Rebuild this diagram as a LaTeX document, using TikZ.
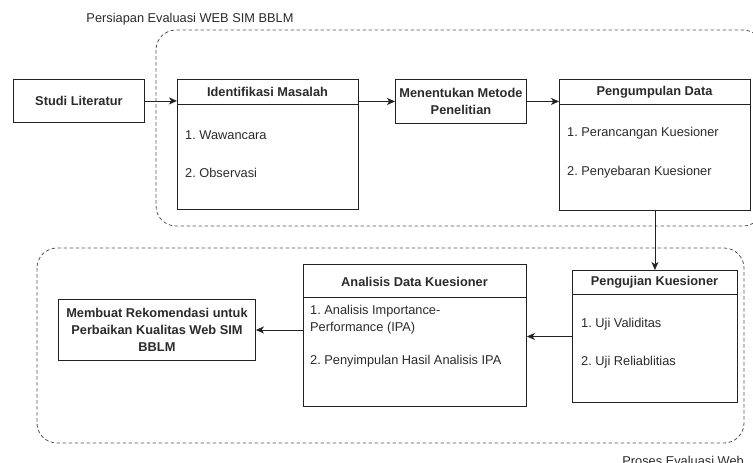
\documentclass[tikz,border=0pt]{standalone}
\usepackage{fontspec}
\setmainfont{Liberation Sans}
\frenchspacing
\usetikzlibrary{arrows.meta}
\definecolor{txt}{HTML}{2B2B2B}
\definecolor{ln}{HTML}{222222}
\definecolor{dsh}{HTML}{555555}
\tikzset{
  every node/.style={font=\fontsize{12.8}{17}\selectfont, text=txt, inner sep=0pt},
  boxnode/.style={draw=ln, line width=0.9pt, fill=white, rectangle, anchor=north west},
  headtext/.style={font=\fontsize{12.8}{17}\selectfont\bfseries},
  itemtext/.style={anchor=west},
  groupbox/.style={draw=dsh, line width=0.8pt, dash pattern=on 3.5pt off 2.5pt, rounded corners=20pt},
  conn/.style={draw=ln, line width=0.9pt, -{Stealth[length=8pt,width=7pt,inset=2.2pt]}},
  lbl/.style={font=\fontsize{12.8}{15}\selectfont}
}
\begin{document}
\begin{tikzpicture}[x=1pt,y=-1pt]
\useasboundingbox (0,0) rectangle (753,463);
% group frames
\path[groupbox] (156,30) rectangle (763,226);
\path[groupbox] (37,248) rectangle (744,443);
\node[lbl, anchor=base] (toplbl) at (190,23) {Persiapan Evaluasi WEB SIM BBLM};
\node[lbl, anchor=base east] (botlbl) at (744,465) {Proses Evaluasi Web};

% Studi Literatur
\node[boxnode, minimum width=131pt, minimum height=43pt, headtext] (studi) at (13,79) {Studi Literatur};

% Identifikasi Masalah
\node[boxnode, minimum width=181pt, minimum height=130pt] (ident) at (177,79) {};
\draw[ln, line width=0.9pt] (177,104) -- (358,104);
\node[headtext] (identh) at (267.5,92) {Identifikasi Masalah};
\node[itemtext] (ident1) at (185,135) {1. Wawancara};
\node[itemtext] (ident2) at (185,173) {2. Observasi};

% Menentukan Metode Penelitian
\node[boxnode, minimum width=131pt, minimum height=44pt, headtext, align=center] (metode) at (395,79) {Menentukan Metode\\Penelitian};

% Pengumpulan Data
\node[boxnode, minimum width=191pt, minimum height=131pt] (kumpul) at (559,79) {};
\draw[ln, line width=0.9pt] (559,104) -- (750,104);
\node[headtext] (kumpulh) at (654.5,92) {Pengumpulan Data};
\node[itemtext] (kumpul1) at (567,133) {1. Perancangan Kuesioner};
\node[itemtext] (kumpul2) at (567,172) {2. Penyebaran Kuesioner};

% Pengujian Kuesioner
\node[boxnode, minimum width=165pt, minimum height=132pt] (uji) at (572,270) {};
\draw[ln, line width=0.9pt] (572,294) -- (737,294);
\node[headtext] (ujih) at (654.5,282) {Pengujian Kuesioner};
\node[itemtext] (uji1) at (581,324) {1. Uji Validitas};
\node[itemtext] (uji2) at (581,362) {2. Uji Reliablitias};

% Analisis Data Kuesioner
\node[boxnode, minimum width=223pt, minimum height=142pt] (anal) at (303,264) {};
\draw[ln, line width=0.9pt] (303,297) -- (526,297);
\node[headtext] (analh) at (414.5,282) {Analisis Data Kuesioner};
\node[itemtext, align=left] (anal1) at (310,320) {1. Analisis Importance-\\Performance (IPA)};
\node[itemtext] (anal2) at (310,361) {2. Penyimpulan Hasil Analisis IPA};

% Membuat Rekomendasi
\node[boxnode, minimum width=197pt, minimum height=61pt, headtext, align=center] (rekom) at (58,299) {Membuat Rekomendasi untuk\\Perbaikan Kualitas Web SIM\\BBLM};

% connectors
\draw[conn] (studi.east) -- (studi.east -| ident.west);
\draw[conn] (ident.east |- metode.west) -- (metode.west);
\draw[conn] (metode.east) -- (metode.east -| kumpul.west);
\draw[conn] (kumpul.south) -- (uji.north);
\draw[conn] (uji.west) -- (uji.west -| anal.east);
\draw[conn] (anal.west |- rekom.east) -- (rekom.east);
\end{tikzpicture}
\end{document}
